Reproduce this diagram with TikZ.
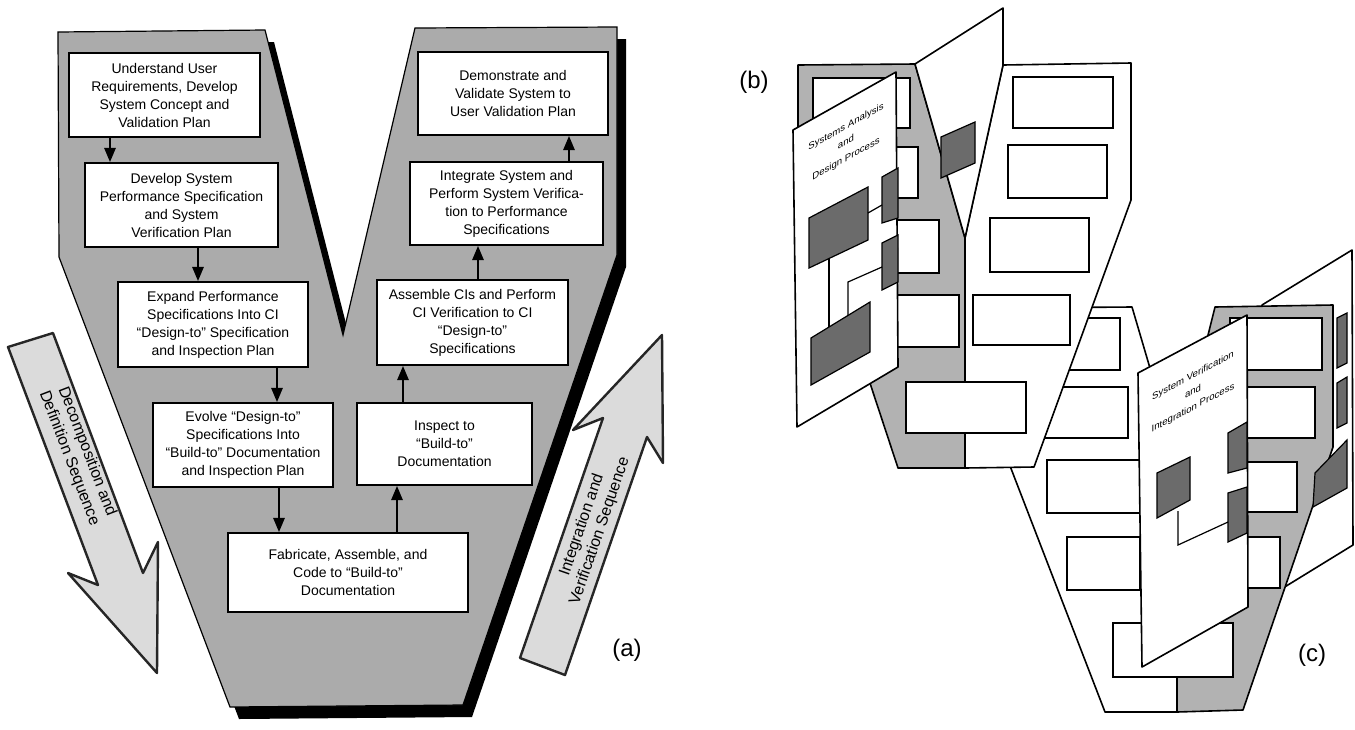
\documentclass[tikz,border=0pt]{standalone}
\usepackage{fontspec}
\setmainfont{Liberation Sans}
\usetikzlibrary{arrows}

\newcommand{\vpath}{(58,32) -- (265,30) -- (343,335) -- (415,28) -- (617,27) -- (617,255) -- (463,705) -- (230,707) -- (59,257) -- cycle}

\begin{document}
\begin{tikzpicture}[>=triangle 45, x=0.5pt, y=-0.5pt,
  vbox/.style={draw, line width=1.1pt, fill=white, align=center, inner sep=1pt, font=\fontsize{7}{9}\selectfont},
  seqarrow/.style={fill=black!14, draw=black!85, line width=1.2pt, line join=round},
  seqtext/.style={align=center, font=\fontsize{8}{9.5}\selectfont},
  flow/.style={->, line width=0.6pt},
  panel/.style={draw, line width=0.8pt, line join=round},
  blank/.style={draw, fill=white, line width=0.8pt},
  tab/.style={draw, fill=black!58, line width=0.6pt},
  pagetext/.style={align=center, font=\fontsize{4.8}{8}\selectfont},
  tag/.style={font=\fontsize{12}{14}\selectfont}]
\useasboundingbox (0,0) rectangle (1355,729);

\fill[black, shift={(9,12)}] \vpath;
\filldraw[fill=black!33, line width=0.6pt] \vpath;

\node[vbox, minimum width=95.5pt, minimum height=42pt] (und) at (164.5,95) {Understand User\\Requirements, Develop\\System Concept and\\Validation Plan};
\node[vbox, minimum width=96.5pt, minimum height=42pt] (dev) at (181.5,205) {Develop System\\Performance Specification\\and System\\Verification Plan};
\node[vbox, minimum width=95pt, minimum height=42.5pt] (exp) at (213,324.5) {Expand Performance\\Specifications Into CI\\``Design-to'' Specification\\and Inspection Plan};
\node[vbox, minimum width=90pt, minimum height=42pt] (evo) at (243,445) {Evolve ``Design-to''\\Specifications Into\\``Build-to'' Documentation\\and Inspection Plan};
\node[vbox, minimum width=120pt, minimum height=39.5pt] (fab) at (348,572.5) {Fabricate, Assemble, and\\Code to ``Build-to''\\Documentation};
\node[vbox, minimum width=87.5pt, minimum height=41pt] (ins) at (444.5,444) {Inspect to\\``Build-to''\\Documentation};
\node[vbox, minimum width=95.5pt, minimum height=42.5pt] (asm) at (472.5,322.5) {Assemble CIs and Perform\\CI Verification to CI\\``Design-to''\\Specifications};
\node[vbox, minimum width=96.5pt, minimum height=41.5pt] (itg) at (506.5,203.5) {Integrate System and\\Perform System Verifica-\\tion to Performance\\Specifications};
\node[vbox, minimum width=95pt, minimum height=41.5pt] (dem) at (513,93.5) {Demonstrate and\\Validate System to\\User Validation Plan};

\draw[flow] (und.south -| 110,0) -- (dev.north -| 110,0);
\draw[flow] (dev.south -| 198,0) -- (exp.north -| 198,0);
\draw[flow] (exp.south -| 277,0) -- (evo.north -| 277,0);
\draw[flow] (evo.south -| 279,0) -- (fab.north -| 279,0);
\draw[flow] (fab.north -| 397,0) -- (ins.south -| 397,0);
\draw[flow] (ins.north -| 403,0) -- (asm.south -| 403,0);
\draw[flow] (asm.north -| 478,0) -- (itg.south -| 478,0);
\draw[flow] (itg.north -| 569,0) -- (dem.south -| 569,0);

\filldraw[seqarrow] (8,347) -- (98,585) -- (68,573) -- (157,673) -- (158,542) -- (143,573) -- (53,333) -- cycle;
\node[seqtext, rotate=-69] (dds) at (78,455) {Decomposition and\\Definition Sequence};
\filldraw[seqarrow] (520,658) -- (603,418) -- (573,430) -- (662,335) -- (663,463) -- (647,437) -- (565,675) -- cycle;
\node[seqtext, rotate=71] (ivs) at (591,528) {Integration and\\Verification Sequence};
\node[tag] (la) at (627,650) {(a)};

\draw[panel, fill=white] (1262,305) -- (1352,250) -- (1353,545) -- (1283,588) -- cycle;
\draw[panel, fill=white] (1105,712) -- (1000,440) -- (1000,308) -- (1132,307) -- (1177,460) -- (1177,712) -- cycle;
\draw[panel, fill=black!30] (1177,712) -- (1177,460) -- (1215,307) -- (1333,305) -- (1333,447) -- (1243,710) -- cycle;
\foreach \a/\b/\c/\d in {1050/318/1120/370, 1030/387/1128/438, 1047/460/1140/513, 1067/537/1140/590, 1113/623/1233/677,
  1230/318/1322/370, 1230/387/1315/438, 1230/462/1297/512, 1230/537/1280/588}
  \draw[blank] (\a,\b) rectangle (\c,\d);
\draw[tab] (1337,318) -- (1347,313) -- (1347,363) -- (1337,368) -- cycle;
\draw[tab] (1337,383) -- (1347,377) -- (1347,423) -- (1337,428) -- cycle;
\draw[tab] (1315,473) -- (1347,440) -- (1347,488) -- (1313,507) -- cycle;
\draw[panel, fill=white] (1138,373) -- (1247,315) -- (1248,607) -- (1142,667) -- cycle;
\draw[tab] (1157,473) -- (1190,457) -- (1190,500) -- (1157,518) -- cycle;
\draw[tab] (1228,433) -- (1247,422) -- (1247,468) -- (1228,473) -- cycle;
\draw[tab] (1228,493) -- (1247,487) -- (1247,533) -- (1228,542) -- cycle;
\draw[line width=0.6pt] (1178,511) -- (1178,545) -- (1228,522);
\node[pagetext, yslant=0.53] (svi) at (1193,392) {System Verification\\and\\Integration Process};
\node[tag] (lc) at (1312,655) {(c)};

\draw[panel, fill=black!30] (798,65) -- (915,64) -- (965,238) -- (965,468) -- (898,468) -- (798,165) -- cycle;
\draw[panel, fill=white] (965,238) -- (1003,65) -- (1131,63) -- (1131,200) -- (1034,467) -- (965,468) -- cycle;
\draw[panel, fill=white] (915,64) -- (1003,8) -- (1003,65) -- (965,238) -- cycle;
\draw[tab] (941,137) -- (975,122) -- (975,163) -- (941,178) -- cycle;
\foreach \a/\b/\c/\d in {813/78/910/128, 830/147/918/198, 850/220/939/273, 870/295/959/347, 906/382/1026/433,
  1013/77/1113/128, 1008/145/1107/198, 990/218/1089/272, 973/295/1070/345}
  \draw[blank] (\a,\b) rectangle (\c,\d);
\draw[panel, fill=white] (793,130) -- (896,72) -- (898,367) -- (797,427) -- cycle;
\draw[tab] (809,218) -- (868,187) -- (868,240) -- (809,268) -- cycle;
\draw[tab] (811,338) -- (870,302) -- (870,352) -- (811,385) -- cycle;
\draw[tab] (882,177) -- (898,168) -- (898,218) -- (882,223) -- cycle;
\draw[tab] (882,243) -- (898,235) -- (898,282) -- (882,290) -- cycle;
\draw[line width=0.6pt] (868,213) -- (882,205);
\draw[line width=0.6pt] (829,258) -- (829,327);
\draw[line width=0.6pt] (848,315) -- (848,282) -- (882,267);
\node[pagetext, yslant=0.56] (sad) at (846,143) {Systems Analysis\\and\\Design Process};
\node[tag] (lb) at (754,82) {(b)};
\end{tikzpicture}
\end{document}
